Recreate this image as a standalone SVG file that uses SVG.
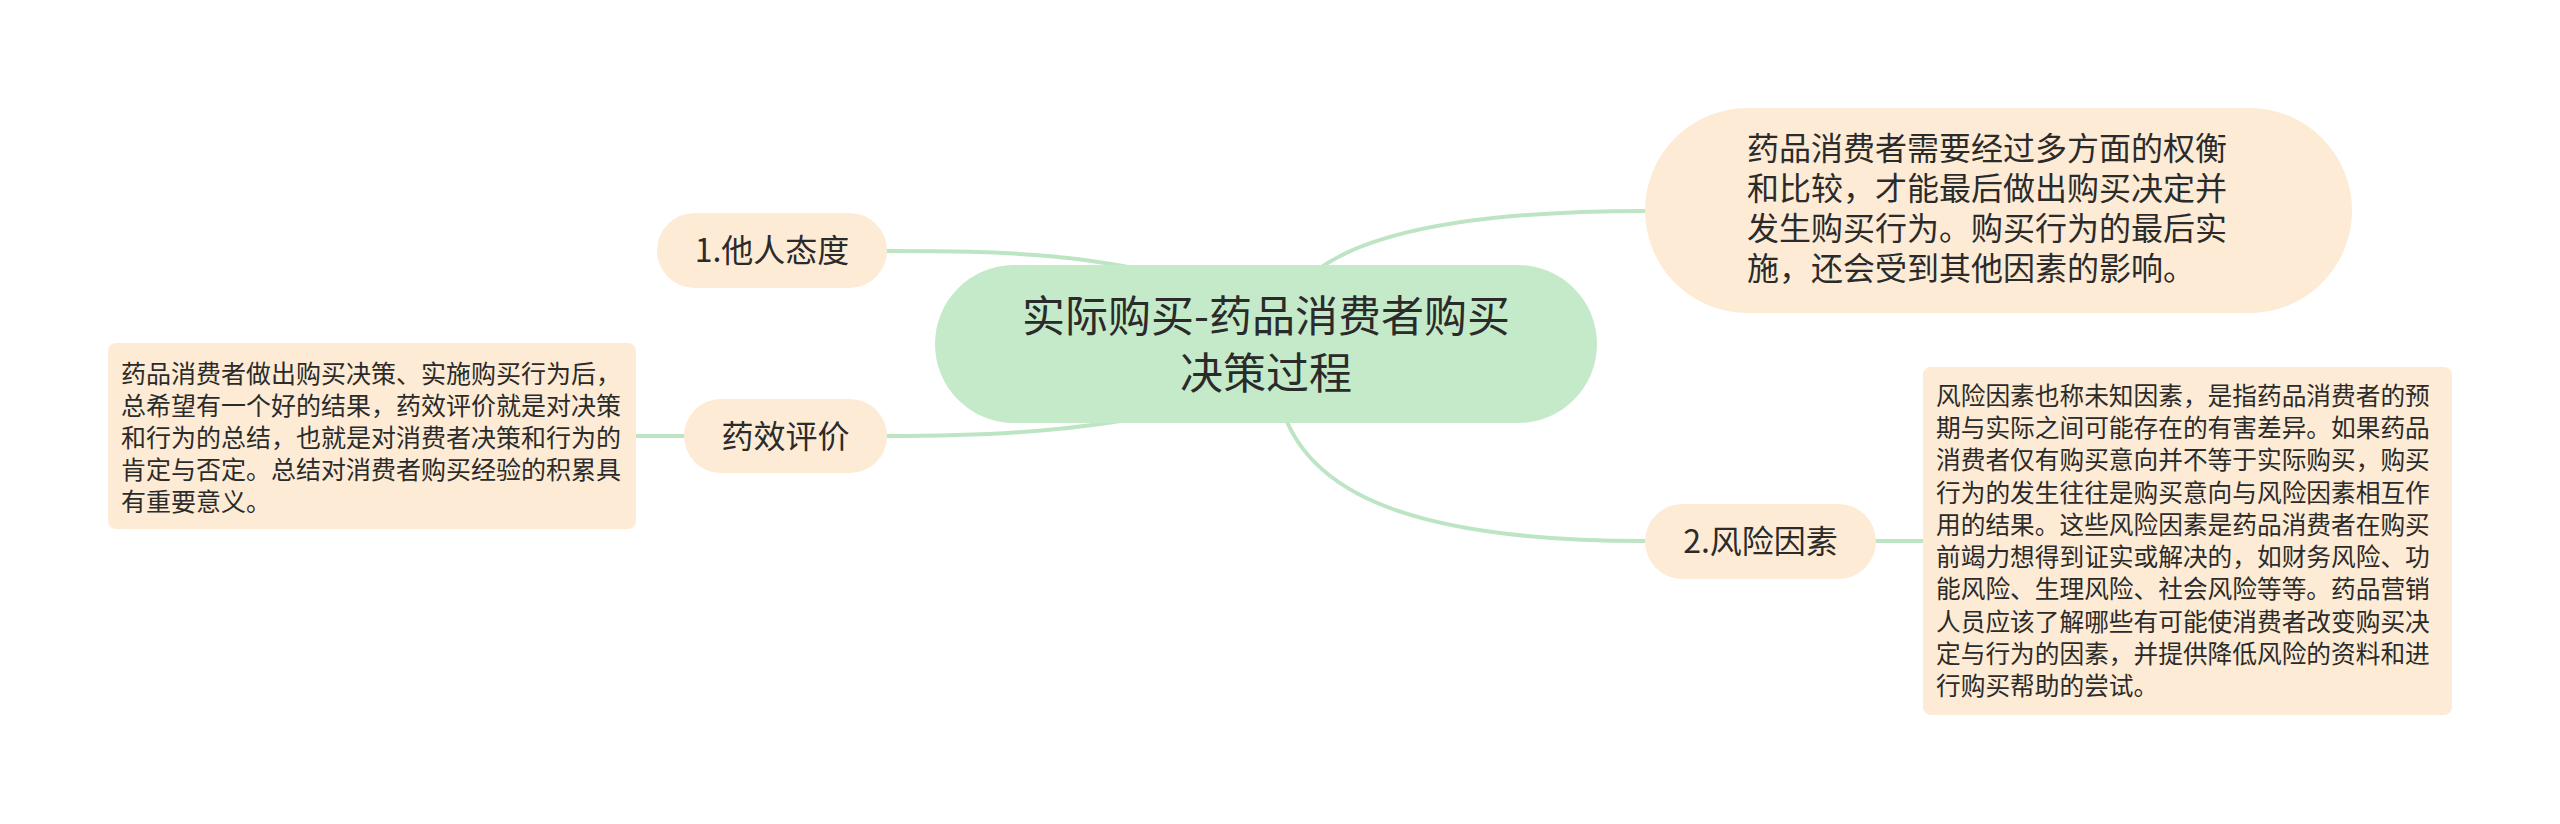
<svg xmlns="http://www.w3.org/2000/svg" width="2560" height="824" viewBox="0 0 2560 824">
<style>
.bg{fill:#ffffff}
.conn{fill:none;stroke:#bde5c4;stroke-width:4;stroke-linecap:round}
.peach{fill:#fdebd5}
.green{fill:#c4eac9}
text{font-family:"Noto Sans CJK SC","Noto Sans",sans-serif;fill:#2b2b2b}
.t43{font-size:43px}
.t32{font-size:32px}
.t25{font-size:25px}
.t24{font-size:24.7px}
.mid{text-anchor:middle}
</style>
<rect class="bg" x="0" y="0" width="2560" height="824"/>
<g id="connectors">
<path class="conn" d="M887,251 C1000,251 1100,252 1220,290"/>
<path class="conn" d="M887,436 C990,436 1100,432 1220,400"/>
<path class="conn" d="M1290,300 Q1340,211 1645,211"/>
<path class="conn" d="M1275,380 C1290,480 1380,541 1645,541"/>
<path class="conn" d="M636,436 L684,436"/>
<path class="conn" d="M1876,541 L1923,541"/>
</g>
<g id="center">
<rect class="green" x="935" y="265" width="662" height="158" rx="79"/>
<text class="t43 mid"><tspan x="1266" y="332">实际购买-药品消费者购买</tspan><tspan x="1266" y="389">决策过程</tspan></text>
</g>
<g id="node-attitude">
<rect class="peach" x="657" y="213" width="230" height="75" rx="37.5"/>
<text class="t32 mid" x="772" y="262">1.他人态度</text>
</g>
<g id="node-evaluation">
<rect class="peach" x="684" y="399" width="203" height="74" rx="37"/>
<text class="t32 mid" x="785.5" y="448">药效评价</text>
</g>
<g id="note-evaluation">
<rect class="peach" x="108" y="343" width="528" height="186" rx="8"/>
<text class="t25"><tspan x="121" y="383">药品消费者做出购买决策、实施购买行为后，</tspan><tspan x="121" y="415">总希望有一个好的结果，药效评价就是对决策</tspan><tspan x="121" y="447">和行为的总结，也就是对消费者决策和行为的</tspan><tspan x="121" y="479">肯定与否定。总结对消费者购买经验的积累具</tspan><tspan x="121" y="511">有重要意义。</tspan></text>
</g>
<g id="node-weigh">
<rect class="peach" x="1645" y="108" width="707" height="205" rx="102.5"/>
<text class="t32"><tspan x="1747" y="160">药品消费者需要经过多方面的权衡</tspan><tspan x="1747" y="200">和比较，才能最后做出购买决定并</tspan><tspan x="1747" y="240">发生购买行为。购买行为的最后实</tspan><tspan x="1747" y="280">施，还会受到其他因素的影响。</tspan></text>
</g>
<g id="node-risk">
<rect class="peach" x="1645" y="504" width="231" height="75" rx="37.5"/>
<text class="t32 mid" x="1760.5" y="553">2.风险因素</text>
</g>
<g id="note-risk">
<rect class="peach" x="1923" y="367" width="529" height="348" rx="8"/>
<text class="t24"><tspan x="1936" y="405">风险因素也称未知因素，是指药品消费者的预</tspan><tspan x="1936" y="437">期与实际之间可能存在的有害差异。如果药品</tspan><tspan x="1936" y="469">消费者仅有购买意向并不等于实际购买，购买</tspan><tspan x="1936" y="502">行为的发生往往是购买意向与风险因素相互作</tspan><tspan x="1936" y="534">用的结果。这些风险因素是药品消费者在购买</tspan><tspan x="1936" y="566">前竭力想得到证实或解决的，如财务风险、功</tspan><tspan x="1936" y="598">能风险、生理风险、社会风险等等。药品营销</tspan><tspan x="1936" y="631">人员应该了解哪些有可能使消费者改变购买决</tspan><tspan x="1936" y="663">定与行为的因素，并提供降低风险的资料和进</tspan><tspan x="1936" y="695">行购买帮助的尝试。</tspan></text>
</g>
</svg>
